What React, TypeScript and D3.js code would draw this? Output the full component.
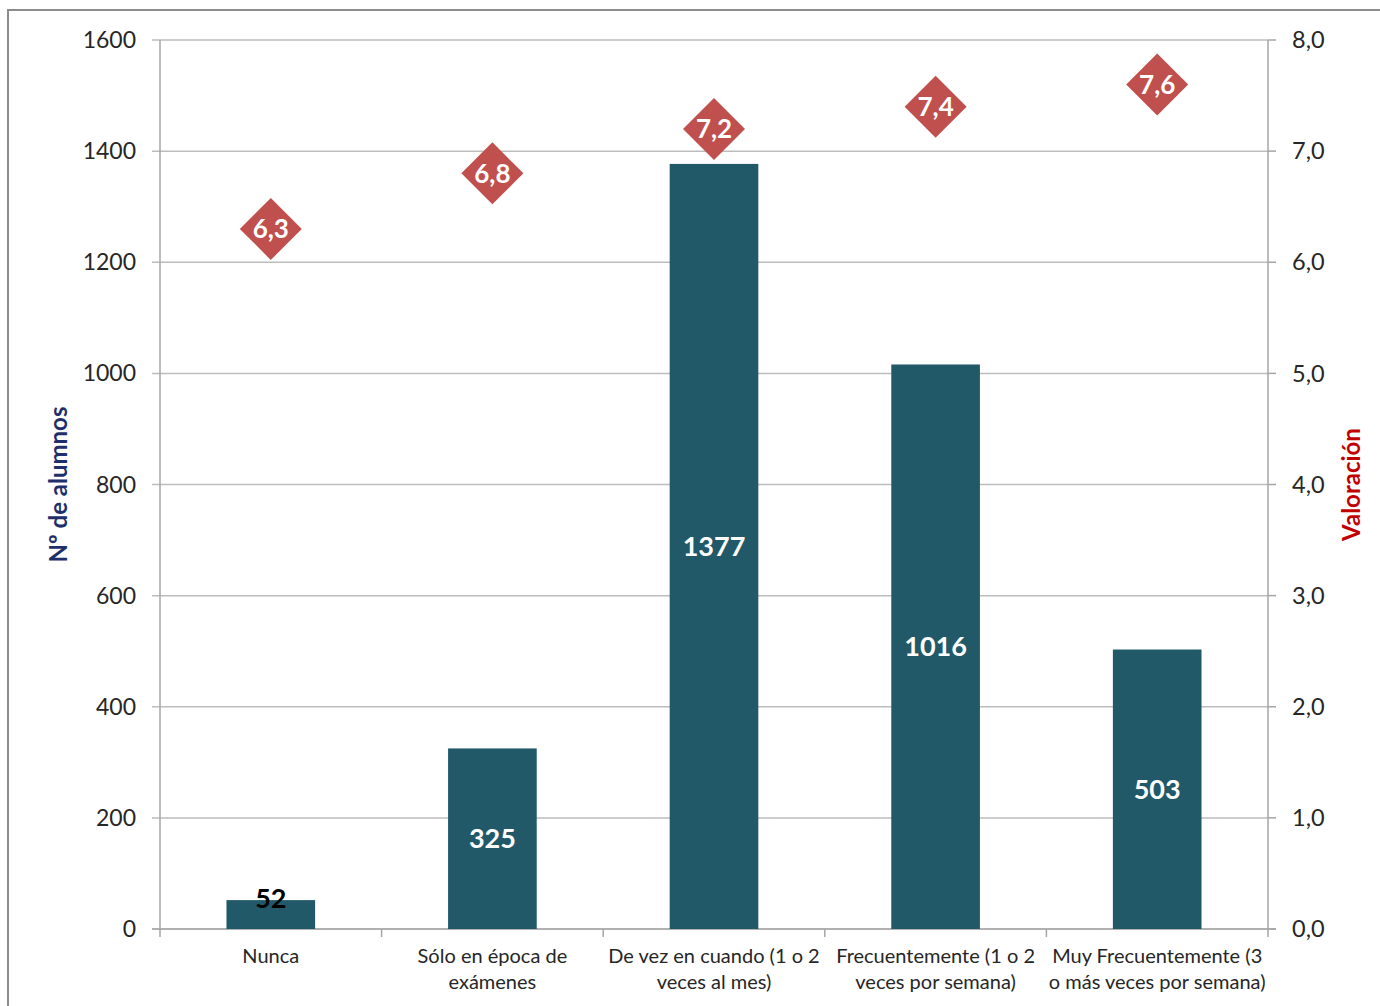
import React from "react";
import * as d3 from "d3";

const categories = [
  ["Nunca"],
  ["Sólo en época de", "exámenes"],
  ["De vez en cuando (1 o 2", "veces al mes)"],
  ["Frecuentemente (1 o 2", "veces por semana)"],
  ["Muy Frecuentemente (3", "o más veces por semana)"],
];
const alumnos = [52, 325, 1377, 1016, 503];
const valoracion = [6.3, 6.8, 7.2, 7.4, 7.6];
const leftTicks = [0, 200, 400, 600, 800, 1000, 1200, 1400, 1600];
const rightTicks = [0, 1, 2, 3, 4, 5, 6, 7, 8];

const W = 1380;
const H = 1006;
const left = 160;
const right = 1268;
const top = 40;
const bottom = 929;
const FONT = "Lato, 'Open Sans', sans-serif";

export default function App() {
  const x = d3
    .scaleBand<number>()
    .domain(d3.range(categories.length))
    .range([left, right])
    .paddingInner(0)
    .paddingOuter(0);
  const yL = d3.scaleLinear().domain([0, 1600]).range([bottom, top]);
  const yR = d3.scaleLinear().domain([0, 8]).range([bottom, top]);
  const bw = x.bandwidth() * 0.4;
  const fmt = (v: number) => v.toFixed(1).replace(".", ",");
  const d = 31;

  return (
    <svg
      width={W}
      height={H}
      style={{ position: "absolute", left: 0, top: 0, background: "#fff" }}
      fontFamily={FONT}
    >
      <rect x={8} y={10} width={W + 10} height={H + 10} fill="#fff" stroke="#8c8c8c" strokeWidth={2} />
      {leftTicks.map((t) => (
        <line key={"g" + t} x1={left - 8} x2={right} y1={yL(t)} y2={yL(t)} stroke="#bdbdbd" strokeWidth={1.5} />
      ))}
      {rightTicks.map((t) => (
        <line key={"rt" + t} x1={right} x2={right + 8} y1={yR(t)} y2={yR(t)} stroke="#a6a6a6" strokeWidth={1.5} />
      ))}
      <line x1={left} x2={left} y1={top} y2={bottom} stroke="#a6a6a6" strokeWidth={1.5} />
      <line x1={right} x2={right} y1={top} y2={bottom} stroke="#a6a6a6" strokeWidth={1.5} />
      <line x1={left - 8} x2={right + 8} y1={bottom} y2={bottom} stroke="#a6a6a6" strokeWidth={1.5} />
      {d3.range(categories.length + 1).map((i) => {
        const xx = left + i * x.step();
        return <line key={"ct" + i} x1={xx} x2={xx} y1={bottom} y2={bottom + 8} stroke="#a6a6a6" strokeWidth={1.5} />;
      })}
      {leftTicks.map((t) => (
        <text key={"lt" + t} x={136} y={yL(t)} dy="0.35em" textAnchor="end" fontSize={23} fill="#262626">
          {t}
        </text>
      ))}
      {rightTicks.map((t) => (
        <text key={"rl" + t} x={1292} y={yR(t)} dy="0.35em" textAnchor="start" fontSize={23.5} fill="#262626">
          {fmt(t)}
        </text>
      ))}
      {alumnos.map((v, i) => {
        const cx = (x(i) as number) + x.bandwidth() / 2;
        const yt = yL(v);
        const small = yL(0) - yt < 40;
        return (
          <g key={"b" + i}>
            <rect x={cx - bw / 2} y={yt} width={bw} height={yL(0) - yt} fill="#215968" />
            <text
              x={cx}
              y={small ? yt - 2 : (yt + yL(0)) / 2}
              dy="0.35em"
              textAnchor="middle"
              fontSize={27}
              fontWeight="bold"
              fill={small ? "#000" : "#fff"}
            >
              {v}
            </text>
          </g>
        );
      })}
      {valoracion.map((v, i) => {
        const cx = (x(i) as number) + x.bandwidth() / 2;
        const cy = yR(v);
        return (
          <g key={"d" + i}>
            <path d={`M${cx},${cy - d} L${cx + d},${cy} L${cx},${cy + d} L${cx - d},${cy} Z`} fill="#c0504d" />
            <text x={cx} y={cy} dy="0.36em" textAnchor="middle" fontSize={26} fontWeight="bold" fill="#fff">
              {fmt(v)}
            </text>
          </g>
        );
      })}
      {categories.map((lines, i) => {
        const cx = (x(i) as number) + x.bandwidth() / 2;
        return (
          <text key={"c" + i} x={cx} textAnchor="middle" fontSize={20} fill="#262626">
            {lines.map((l, j) => (
              <tspan key={j} x={cx} y={963 + j * 26}>
                {l}
              </tspan>
            ))}
          </text>
        );
      })}
      <text
        transform={`translate(67,${(top + bottom) / 2}) rotate(-90)`}
        textAnchor="middle"
        fontSize={24}
        fontWeight="bold"
        fill="#1f2f6b"
      >
        Nº de alumnos
      </text>
      <text
        transform={`translate(1360,${(top + bottom) / 2}) rotate(-90)`}
        textAnchor="middle"
        fontSize={24}
        fontWeight="bold"
        fill="#c00000"
      >
        Valoración
      </text>
    </svg>
  );
}
